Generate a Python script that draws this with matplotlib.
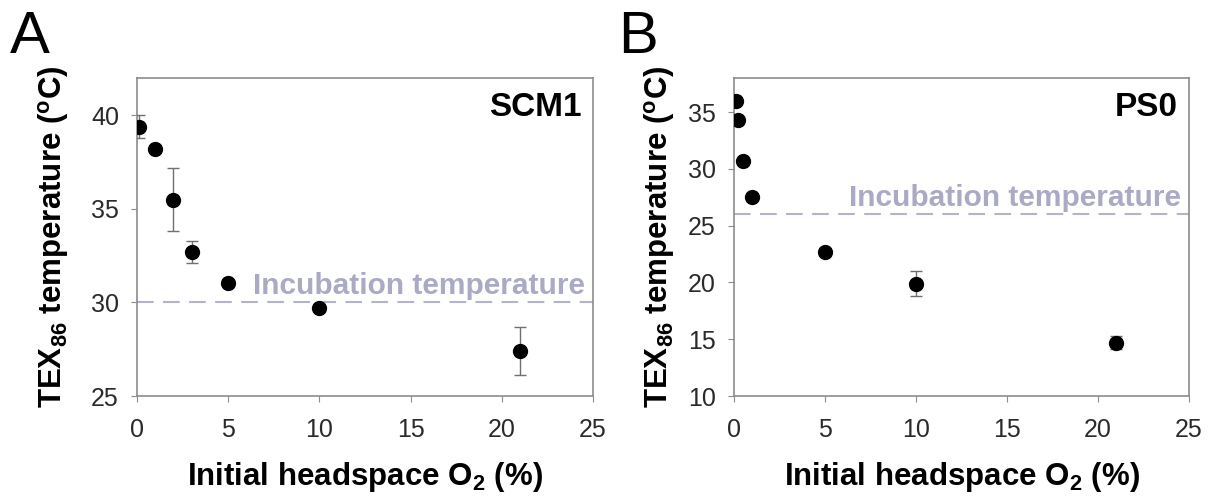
import matplotlib.pyplot as plt

plt.rcParams['font.family'] = ['Liberation Sans', 'DejaVu Sans']
plt.rcParams['mathtext.default'] = 'regular'

# panel A: SCM1
a_o2 = [0.1, 1, 2, 3, 5, 10, 21]
a_temp = [39.4, 38.2, 35.5, 32.7, 31.05, 29.7, 27.4]
a_err = [0.6, 0.0, 1.7, 0.6, 0.0, 0.0, 1.3]
a_incub = 30

# panel B: PS0
b_o2 = [0.1, 0.2, 0.5, 1, 5, 10, 21]
b_temp = [36.0, 34.3, 30.7, 27.5, 22.7, 19.9, 14.7]
b_err = [0.0, 0.0, 0.0, 0.0, 0.0, 1.1, 0.6]
b_incub = 26

fig = plt.figure(figsize=(12.09, 4.97), dpi=100)
axA = fig.add_axes([0.1133, 0.2032, 0.3772, 0.64])
axB = fig.add_axes([0.607, 0.2032, 0.3765, 0.64])

gray = '#8c8c8c'
lav = '#aaaac4'

def panel(ax, x, y, err, incub, ylim, yticks, name, ylab_x):
    ax.errorbar(x, y, yerr=err, fmt='o', color='black', ms=10,
                ecolor='#707070', elinewidth=1, capsize=4, capthick=1, zorder=3)
    ax.axhline(incub, color='#b4b4c8', ls=(0, (8, 4.5)), lw=1.5, zorder=1)
    ax.annotate('Incubation temperature', xy=(1, incub),
                xycoords=('axes fraction', 'data'), xytext=(-6, 6),
                textcoords='offset points', ha='right', va='baseline',
                color=lav, fontsize=21.5, fontweight='bold')
    ax.annotate(name, xy=(1, 1), xycoords='axes fraction', xytext=(-8, -10),
                textcoords='offset points', ha='right', va='top',
                fontsize=24, fontweight='bold')
    ax.set_xlim(0, 25)
    ax.set_ylim(*ylim)
    ax.set_xticks([0, 5, 10, 15, 20, 25])
    ax.set_yticks(yticks)
    for s in ax.spines.values():
        s.set_color(gray)
        s.set_linewidth(1.2)
    ax.tick_params(direction='out', length=4, color=gray, labelsize=18,
                   labelcolor='#2a2a2a')
    ax.tick_params(axis='x', pad=12)
    ax.tick_params(axis='y', pad=9)
    ax.set_xlabel('Initial headspace O$_2$ (%)', fontsize=22.5, fontweight='bold')
    ax.set_ylabel('TEX$_{86}$ temperature ($^{o}$C)', fontsize=22.5,
                  fontweight='bold')
    ax.xaxis.set_label_coords(0.5, -0.2)
    ax.yaxis.set_label_coords(ylab_x, 0.5)

panel(axA, a_o2, a_temp, a_err, a_incub, (25, 42), [25, 30, 35, 40], 'SCM1', -0.145)
panel(axB, b_o2, b_temp, b_err, b_incub, (10, 38), [10, 15, 20, 25, 30, 35], 'PS0', -0.125)

fig.text(0.0083, 1 - 53 / 497, 'A', fontsize=43, va='baseline', ha='left')
fig.text(0.511, 1 - 53 / 497, 'B', fontsize=43, va='baseline', ha='left')

fig.savefig('out.png', dpi=100)
